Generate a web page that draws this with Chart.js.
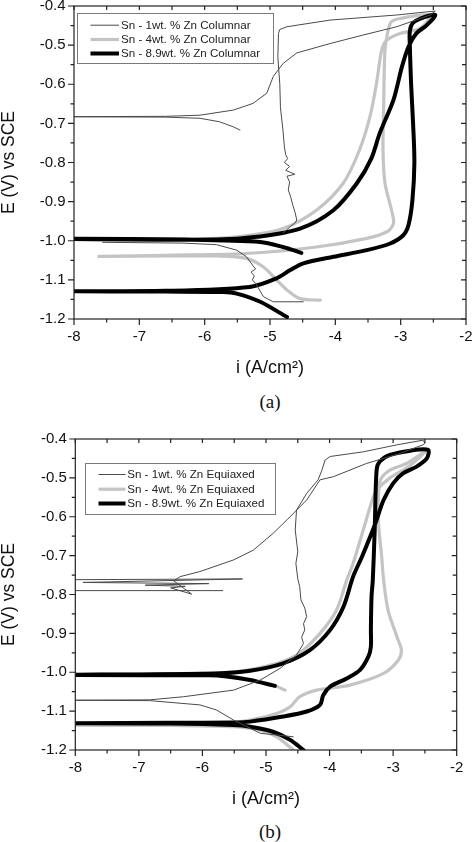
<!DOCTYPE html>
<html><head><meta charset="utf-8">
<script src="https://cdn.jsdelivr.net/npm/chart.js@4.4.1/dist/chart.umd.min.js"></script>
<style>
html,body{margin:0;padding:0;background:#fff;}
body{width:472px;height:842px;position:relative;overflow:hidden;}
.wrap{position:absolute;left:0;width:472px;}
.cap{position:absolute;left:220px;width:100px;text-align:center;font-family:"Liberation Serif","Times New Roman",serif;font-size:19px;line-height:20px;color:#111;}
</style></head><body>
<div class="wrap" style="top:0;height:390px"><canvas id="chartA" width="472" height="390"></canvas></div>
<div class="cap" style="top:392px">(a)</div>
<div class="wrap" style="top:420px;height:400px"><canvas id="chartB" width="472" height="400"></canvas></div>
<div class="cap" style="top:822px">(b)</div>
<script>
// ---- axes / ticks ----
const xTickValues = [-8, -7, -6, -5, -4, -3, -2];
const xTickLabels = ['-8', '-7', '-6', '-5', '-4', '-3', '-2'];
const yTickValues = [-1.2, -1.1, -1.0, -0.9, -0.8, -0.7, -0.6, -0.5, -0.4];
const yTickLabels = ['-1.2', '-1.1', '-1.0', '-0.9', '-0.8', '-0.7', '-0.6', '-0.5', '-0.4'];
const xTitle = 'i (A/cm²)';
const yTitle = 'E (V) vs SCE';
const legendA = ['Sn - 1wt. % Zn Columnar', 'Sn - 4wt. % Zn Columnar', 'Sn - 8.9wt. % Zn Columnar'];
const legendB = ['Sn - 1wt. % Zn Equiaxed', 'Sn - 4wt. % Zn Equiaxed', 'Sn - 8.9wt. % Zn Equiaxed'];

// ---- panel (a): columnar ----
const a1LowX = [-4.49, -4.95, -5.10, -5.22, -5.27, -5.24, -5.29, -5.22, -5.26, -5.36, -5.51, -5.82, -6.33, -7.56];
const a1LowY = [-1.156, -1.156, -1.143, -1.109, -1.100, -1.090, -1.080, -1.072, -1.064, -1.041, -1.024, -1.010, -1.006, -1.004];
const a1X = [-5.46, -5.56, -5.77, -6.07, -6.6, -8.2, -6.6, -6.07, -5.56, -5.26, -5.05, -4.95, -4.80, -4.59, -4.08, -3.57, -3.06, -2.55, -2.47, -2.6, -3.06, -4.08, -4.74, -4.85, -4.87, -4.88, -4.85, -4.84, -4.80, -4.78, -4.76, -4.73, -4.78, -4.70, -4.76, -4.62, -4.74, -4.70, -4.72, -4.68, -4.65, -4.62, -4.59, -4.62, -4.69, -4.80];
const a1Y = [-0.717, -0.709, -0.696, -0.687, -0.684, -0.683, -0.682, -0.679, -0.666, -0.649, -0.623, -0.580, -0.547, -0.520, -0.496, -0.474, -0.453, -0.423, -0.413, -0.415, -0.423, -0.436, -0.453, -0.460, -0.470, -0.530, -0.600, -0.660, -0.720, -0.760, -0.780, -0.790, -0.800, -0.810, -0.820, -0.830, -0.835, -0.850, -0.870, -0.890, -0.910, -0.925, -0.947, -0.955, -0.964, -0.980];
const a4X = [-4.23, -4.54, -4.74, -4.90, -5.10, -5.36, -5.82, -6.6, -7.62, -6.6, -5.31, -4.29, -3.52, -3.21, -3.11, -3.14, -3.24, -3.27, -3.26, -3.24, -3.19, -3.14, -3.01, -2.55, -2.70, -3.01, -3.21, -3.29, -3.37, -3.47, -3.63, -3.88, -4.29, -4.80, -5.31, -6.0, -7.0];
const a4Y = [-1.152, -1.148, -1.126, -1.100, -1.067, -1.045, -1.039, -1.039, -1.040, -1.037, -1.032, -1.016, -0.994, -0.977, -0.956, -0.922, -0.853, -0.768, -0.650, -0.513, -0.461, -0.440, -0.432, -0.423, -0.457, -0.470, -0.487, -0.513, -0.598, -0.683, -0.768, -0.853, -0.922, -0.969, -0.986, -0.995, -0.996];
const a9X = [-4.74, -5.15, -5.51, -5.72, -6.6, -8.2, -6.6, -5.31, -4.90, -4.69, -4.49, -4.03, -3.52, -3.16, -2.96, -2.88, -2.82, -2.79, -2.81, -2.84, -2.86, -2.86, -2.82, -2.70, -2.47, -2.60, -2.76, -2.88, -2.98, -3.11, -3.32, -3.45, -3.67, -4.03, -4.54, -5.20, -5.82, -8.2, -6.3, -5.15, -4.80, -4.52];
const a9Y = [-1.195, -1.156, -1.135, -1.131, -1.130, -1.129, -1.128, -1.118, -1.096, -1.075, -1.058, -1.041, -1.024, -1.007, -0.986, -0.960, -0.896, -0.800, -0.700, -0.600, -0.500, -0.465, -0.445, -0.432, -0.423, -0.449, -0.470, -0.504, -0.555, -0.640, -0.725, -0.790, -0.853, -0.922, -0.969, -0.990, -0.997, -0.995, -0.997, -1.003, -1.016, -1.031];

// ---- panel (b): equiaxed ----
const b1X = [-4.57, -5.09, -5.25, -5.51, -5.78, -6.04, -6.83, -8.2, -6.83, -6.30, -5.51, -5.09, -4.78, -4.52, -4.41, -4.44, -4.39, -4.41, -4.36, -4.39, -4.45, -4.47, -4.50, -4.53, -4.50, -4.54, -4.52, -4.36, -4.18, -4.12, -4.07, -3.99, -3.47, -2.94, -2.53, -2.50, -2.53, -2.89, -3.42, -3.94, -4.15, -4.36, -4.67, -4.89, -5.20, -5.51, -6.04, -6.35, -6.45, -6.17, -6.5, -6.27, -6.9, -5.9, -7.88, -5.37, -8.2, -8.2, -5.68];
const b1Y = [-1.166, -1.157, -1.144, -1.123, -1.097, -1.084, -1.073, -1.072, -1.071, -1.063, -1.046, -1.020, -0.990, -0.956, -0.926, -0.910, -0.891, -0.875, -0.857, -0.835, -0.814, -0.780, -0.760, -0.720, -0.690, -0.634, -0.583, -0.540, -0.505, -0.480, -0.454, -0.445, -0.433, -0.415, -0.403, -0.411, -0.415, -0.437, -0.463, -0.497, -0.505, -0.557, -0.608, -0.643, -0.686, -0.711, -0.741, -0.754, -0.765, -0.799, -0.783, -0.779, -0.776, -0.772, -0.769, -0.760, -0.762, -0.790, -0.790];
const b4X = [-4.57, -4.83, -5.09, -5.51, -6.5, -8.2, -6.5, -5.5, -5.25, -4.83, -4.62, -4.47, -4.20, -3.68, -3.15, -2.92, -2.87, -2.94, -3.08, -3.15, -3.18, -3.23, -3.23, -3.20, -3.05, -2.79, -2.50, -2.75, -3.05, -3.25, -3.31, -3.47, -3.63, -3.73, -3.89, -4.15, -4.52, -5.0, -5.6, -8.2, -5.6, -5.25, -4.89, -4.70];
const b4Y = [-1.200, -1.166, -1.149, -1.140, -1.137, -1.136, -1.132, -1.128, -1.123, -1.106, -1.089, -1.063, -1.046, -1.033, -1.003, -0.969, -0.943, -0.909, -0.840, -0.763, -0.703, -0.617, -0.548, -0.505, -0.480, -0.463, -0.433, -0.470, -0.500, -0.530, -0.548, -0.634, -0.720, -0.763, -0.840, -0.900, -0.956, -0.985, -1.000, -1.006, -1.008, -1.020, -1.033, -1.046];
const b9X = [-4.41, -4.62, -4.89, -5.25, -5.51, -6.5, -8.2, -6.5, -5.5, -5.25, -4.73, -4.36, -4.15, -4.10, -3.99, -3.73, -3.52, -3.39, -3.35, -3.35, -3.34, -3.32, -3.29, -3.26, -3.21, -3.05, -2.73, -2.45, -2.47, -2.63, -2.84, -3.0, -3.15, -3.26, -3.36, -3.49, -3.63, -3.78, -3.99, -4.31, -4.73, -5.25, -5.78, -8.2, -5.9, -5.62, -5.25, -5.04, -4.86];
const b9Y = [-1.200, -1.174, -1.153, -1.140, -1.136, -1.132, -1.131, -1.130, -1.129, -1.127, -1.114, -1.101, -1.084, -1.059, -1.037, -1.016, -0.994, -0.960, -0.934, -0.891, -0.806, -0.763, -0.634, -0.480, -0.458, -0.441, -0.430, -0.428, -0.450, -0.471, -0.488, -0.514, -0.557, -0.608, -0.651, -0.703, -0.754, -0.831, -0.891, -0.943, -0.977, -0.996, -1.003, -1.007, -1.008, -1.011, -1.020, -1.028, -1.035];

// ---- rendering ----
const FONT = "'Liberation Sans', Arial, Helvetica, sans-serif";
const STY = {
  thin:  { borderColor: '#4a4a4a', borderWidth: 1,   tension: 0 },
  gray:  { borderColor: '#c4c4c4', borderWidth: 3.2, tension: 0.3 },
  black: { borderColor: '#000000', borderWidth: 4,   tension: 0.3 }
};
function pts(xs, ys) { return xs.map((x, i) => ({ x: x, y: ys[i] })); }
function ds(label, xs, ys, st, order) {
  return Object.assign({ label: label, data: pts(xs, ys), showLine: true, pointRadius: 0,
    pointHoverRadius: 0, fill: false, clip: 0, order: order, borderJoinStyle: 'round', borderCapStyle: 'round' }, st);
}

const framePlugin = {
  id: 'frame',
  afterDatasetsDraw(chart) {
    const { ctx, chartArea: a, scales: { x, y } } = chart;
    ctx.save();
    ctx.strokeStyle = '#222'; ctx.lineWidth = 1.2;
    ctx.strokeRect(a.left, a.top, a.right - a.left, a.bottom - a.top);
    ctx.beginPath();
    for (let k = 0; k <= 12; k++) {
      const v = x.min + k * 0.5;
      const px = x.getPixelForValue(v);
      const len = (k % 2 === 0) ? 6 : 3.5;
      ctx.moveTo(px, a.bottom); ctx.lineTo(px, a.bottom + len);
      ctx.moveTo(px, a.top); ctx.lineTo(px, a.top + 4);
    }
    for (let k = 0; k <= 16; k++) {
      const v = y.min + k * 0.05;
      const py = y.getPixelForValue(v);
      const major = (k % 2 === 0);
      ctx.moveTo(a.left, py); ctx.lineTo(a.left - (major ? 6 : 3.5), py);
      ctx.moveTo(a.right, py); ctx.lineTo(a.right - (major ? 5 : 4), py);
    }
    ctx.stroke();
    ctx.restore();
  }
};

function makeLegend(labels, box) {
  return {
    id: 'boxLegend',
    afterDraw(chart) {
      const { ctx, chartArea: a } = chart;
      const L = Math.round(a.left + box.dx) + 0.5, T = Math.round(a.top + box.dy) + 0.5;
      const sty = [STY.thin, STY.gray, STY.black];
      ctx.save();
      ctx.fillStyle = '#fff'; ctx.fillRect(L, T, box.w, box.h);
      ctx.strokeStyle = '#7a7a7a'; ctx.lineWidth = 1;
      ctx.strokeRect(L, T, box.w, box.h);
      ctx.font = box.font + 'px ' + FONT; ctx.textBaseline = 'middle'; ctx.textAlign = 'left';
      labels.forEach((lab, i) => {
        const yy = T + box.rows[i];
        ctx.strokeStyle = sty[i].borderColor; ctx.lineWidth = sty[i].borderWidth; ctx.lineCap = 'butt';
        ctx.beginPath(); ctx.moveTo(L + box.s0, yy); ctx.lineTo(L + box.s1, yy); ctx.stroke();
        ctx.fillStyle = '#222';
        ctx.fillText(lab, L + box.tx, yy + 0.5);
      });
      ctx.restore();
    }
  };
}

function makeChart(id, datasets, lay, labels, box) {
  return new Chart(document.getElementById(id), {
    type: 'scatter',
    data: { datasets: datasets },
    plugins: [framePlugin, makeLegend(labels, box)],
    options: {
      responsive: false, animation: false, events: [],
      layout: { padding: { left: 0, top: lay.top, right: lay.right, bottom: 0 } },
      plugins: { legend: { display: false }, tooltip: { enabled: false } },
      scales: {
        x: {
          type: 'linear', min: -8, max: -2,
          afterBuildTicks: s => { s.ticks = xTickValues.map(v => ({ value: v })); },
          afterFit: s => { s.height = lay.xH; s.paddingLeft = 0; s.paddingRight = 0; },
          ticks: { callback: (v, i) => xTickLabels[i], font: { family: FONT, size: 15 }, color: '#111',
                   padding: lay.xPad, maxRotation: 0, autoSkip: false },
          grid: { display: false, drawTicks: false }, border: { display: false },
          title: { display: true, text: xTitle, color: '#111', font: { family: FONT, size: 18 },
                   padding: { top: 0, bottom: lay.xTitlePad } }
        },
        y: {
          type: 'linear', min: -1.2, max: -0.4,
          afterBuildTicks: s => { s.ticks = yTickValues.map(v => ({ value: v })); },
          afterFit: s => { s.width = lay.yW; s.paddingTop = 0; s.paddingBottom = 0; },
          ticks: { callback: (v, i) => yTickLabels[i], font: { family: FONT, size: 15 }, color: '#111',
                   padding: 8.5, autoSkip: false },
          grid: { display: false, drawTicks: false }, border: { display: false },
          title: { display: true, text: yTitle, color: '#111', font: { family: FONT, size: 17.5, lineHeight: 1 },
                   padding: { top: 0, bottom: 0 } }
        }
      }
    }
  });
}

makeChart('chartA', [
  ds(legendA[0], a1LowX, a1LowY, STY.thin, 0),
  ds(legendA[0], a1X, a1Y, STY.thin, 0),
  ds(legendA[2], a9X, a9Y, STY.black, 1),
  ds(legendA[1], a4X, a4Y, STY.gray, 2)
], { top: 6, right: 6, yW: 74, xH: 71, xPad: 8.5, xTitlePad: 11.2 }, legendA,
   { dx: 3, dy: 7, w: 196, h: 50, rows: [11.7, 26, 40], s0: 13, s1: 41.5, tx: 43.5, font: 11.6 });

makeChart('chartB', [
  ds(legendB[0], b1X, b1Y, STY.thin, 0),
  ds(legendB[2], b9X, b9Y, STY.black, 1),
  ds(legendB[1], b4X, b4Y, STY.gray, 2)
], { top: 19, right: 15.3, yW: 75.3, xH: 70, xPad: 9, xTitlePad: 10.2 }, legendB,
   { dx: 9.7, dy: 24.3, w: 190, h: 51, rows: [11, 25.7, 40], s0: 13, s1: 40, tx: 41.7, font: 11.6 });
</script>
</body></html>
